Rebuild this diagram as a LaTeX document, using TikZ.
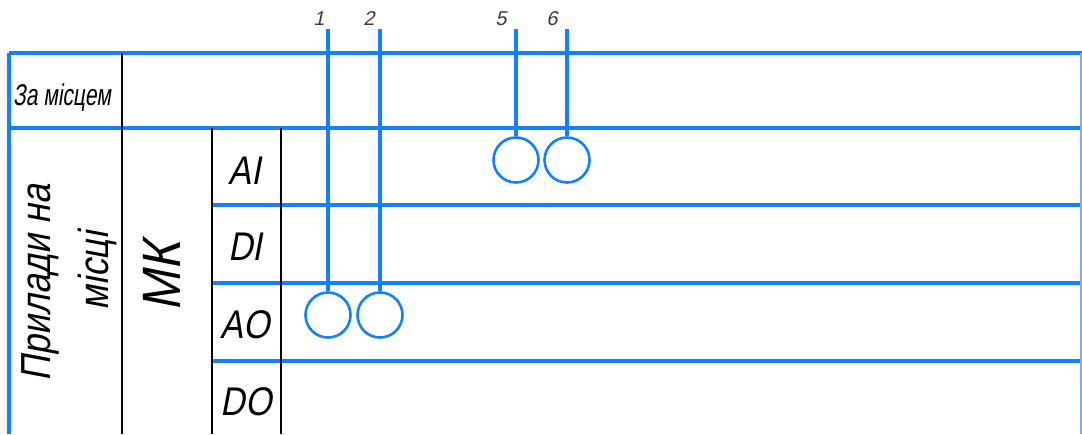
\documentclass[tikz,border=0pt]{standalone}
\usepackage{fontspec}
\usepackage{graphicx}
\newfontfamily\gost[FakeSlant=0.22]{Liberation Sans}
\definecolor{bl}{RGB}{18,128,255}
\definecolor{lb}{RGB}{120,175,240}
\definecolor{gr}{RGB}{60,60,60}
\tikzset{
  bline/.style={draw=bl, line width=3.1pt},
  kline/.style={draw=black, line width=1.3pt},
  dev/.style={circle, draw=bl, line width=2.6pt, minimum size=45pt, inner sep=0pt},
  num/.style={text=gr, font=\gost\fontsize{20}{20}\selectfont, inner sep=0pt},
  cell/.style={inner sep=0pt, anchor=base},
}
\begin{document}
\begin{tikzpicture}[x=1pt,y=-1pt]
\useasboundingbox (0,0) rectangle (1082,434);
% grid coordinates
\coordinate (tl) at (9,53);
\coordinate (tr) at (1082,53);
\coordinate (ml) at (9,128);
\coordinate (mr) at (1082,128);
\coordinate (bl0) at (9,434);
% horizontal blue lines
\draw[bline] (tl) -- (tr);
\draw[bline] (ml) -- (mr);
\draw[bline] (212,205) -- (1082,205);
\draw[bline] (212,283) -- (1082,283);
\draw[bline] (212,361) -- (1082,361);
\draw[bline] (tl) -- (bl0);
\draw[draw=lb, line width=1.2pt] (1081,53) -- (1081,434);
% black verticals
\draw[kline] (122,53) -- (122,434);
\draw[kline] (212,128) -- (212,434);
\draw[kline] (281,128) -- (281,434);
% texts
\node[cell, anchor=base west] (zm) at (13,105) {\scalebox{0.7}[1]{\gost\fontsize{30}{30}\selectfont За місцем}};
\node[rotate=90, inner sep=0pt] (pr1) at (40,283) {\scalebox{0.85}[1]{\gost\fontsize{42}{42}\selectfont Прилади на}};
\node[rotate=90, inner sep=0pt] (pr2) at (97,271) {\scalebox{0.85}[1]{\gost\fontsize{42}{42}\selectfont місці}};
\node[rotate=90, inner sep=0pt] (mk) at (162,277) {\scalebox{0.9}[1]{\gost\fontsize{54}{54}\selectfont МК}};
\node[cell] (ai) at (245,184) {\scalebox{0.85}[1]{\gost\fontsize{40}{40}\selectfont AI}};
\node[cell] (di) at (245,260) {\scalebox{0.85}[1]{\gost\fontsize{40}{40}\selectfont DI}};
\node[cell] (ao) at (245,338) {\scalebox{0.85}[1]{\gost\fontsize{40}{40}\selectfont AO}};
\node[cell] (do) at (246,415) {\scalebox{0.85}[1]{\gost\fontsize{40}{40}\selectfont DO}};
% devices
\node[dev] (c1) at (328,315) {};
\node[dev] (c2) at (380,315) {};
\node[dev] (c5) at (516,160) {};
\node[dev] (c6) at (567,160) {};
\coordinate (t1) at (328,29);
\coordinate (t2) at (380,29);
\coordinate (t5) at (516,29);
\coordinate (t6) at (567,29);
\draw[bline] (t1) -- (c1.north);
\draw[bline] (t2) -- (c2.north);
\draw[bline] (t5) -- (c5.north);
\draw[bline] (t6) -- (c6.north);
\node[num] (n1) at (319,19) {1};
\node[num] (n2) at (369,19) {2};
\node[num] (n5) at (501,19) {5};
\node[num] (n6) at (552,19) {6};
\end{tikzpicture}
\end{document}
